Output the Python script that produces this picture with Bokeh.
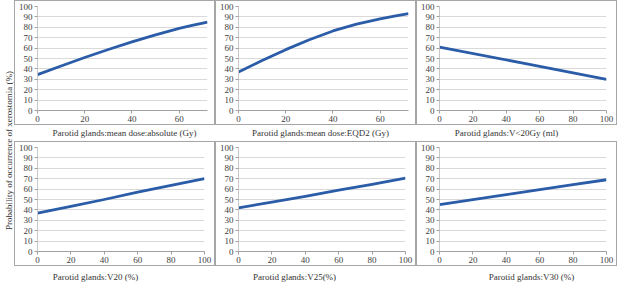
from bokeh.plotting import figure
from bokeh.layouts import row, column
from bokeh.models import Range1d, FixedTicker, Label
from bokeh.embed import file_html
from bokeh.resources import INLINE
import math

# ---------------- data ----------------
y_label_text = "Probability of occurrence of xerostomia (%)"
y_ticks = [0, 10, 20, 30, 40, 50, 60, 70, 80, 90, 100]
dose_ticks = [0, 20, 40, 60]
pct_ticks = [0, 20, 40, 60, 80, 100]

p1_title = "Parotid glands:mean dose:absolute (Gy)"
p1_x = [0, 10, 20, 30, 40, 50, 60, 65, 72]
p1_y = [34.5, 42.8, 51.0, 58.7, 66.0, 72.8, 79.0, 81.6, 85.0]

p2_title = "Parotid glands:mean dose:EQD2 (Gy)"
p2_x = [0, 10, 20, 30, 40, 50, 60, 66, 72]
p2_y = [37.0, 48.0, 58.5, 68.0, 76.5, 83.0, 88.0, 90.8, 93.2]

p3_title = "Parotid glands:V<20Gy (ml)"
p3_x = [0, 50, 100]
p3_y = [61.0, 45.5, 30.0]

p4_title = "Parotid glands:V20 (%)"
p4_x = [0, 20, 40, 60, 80, 100]
p4_y = [37.0, 43.5, 50.0, 57.0, 63.5, 70.0]

p5_title = "Parotid glands:V25(%)"
p5_x = [0, 20, 40, 60, 80, 100]
p5_y = [42.0, 47.5, 53.0, 59.0, 64.5, 70.5]

p6_title = "Parotid glands:V30 (%)"
p6_x = [0, 20, 40, 60, 80, 100]
p6_y = [45.0, 49.8, 54.7, 59.6, 64.4, 69.0]

# ---------------- style ----------------
BLUE = "#2A5CA8"
FONT = "Liberation Serif"
PW, PH = 201, 125
BORDER = {"border": "1px solid #a6a6a6"}


def panel(xs, ys, xmax, xticks, right):
    p = figure(width=PW, height=PH, x_range=Range1d(0, xmax), y_range=Range1d(0, 100),
               output_backend="svg", toolbar_location=None,
               min_border_left=22, min_border_right=right,
               min_border_top=5, min_border_bottom=16, styles=BORDER)
    p.line(xs, ys, line_color=BLUE, line_width=2.8, line_join="round")
    p.outline_line_color = None
    p.xgrid.visible = False
    p.ygrid.ticker = FixedTicker(ticks=y_ticks)
    p.ygrid.grid_line_color = "#d9d9d9"
    p.yaxis.ticker = FixedTicker(ticks=y_ticks)
    p.xaxis.ticker = FixedTicker(ticks=xticks)
    for ax in (p.xaxis[0], p.yaxis[0]):
        ax.major_label_text_font = FONT
        ax.major_label_text_font_size = "9px"
        ax.major_label_text_color = "#404040"
        ax.axis_line_color = "#a0a0a0"
        ax.major_tick_line_color = "#a0a0a0"
        ax.major_tick_in = 0
        ax.major_tick_out = 3
        ax.minor_tick_line_color = None
        ax.major_label_standoff = 2
    p.yaxis.axis_line_color = "#c8c8c8"
    return p


def strip(labels):
    s = figure(width=3 * (PW + 2), height=16, output_backend="svg", toolbar_location=None,
               x_axis_type=None, y_axis_type=None, min_border=0,
               x_range=Range1d(0, 1), y_range=Range1d(0, 1))
    s.outline_line_color = None
    for txt, xpos, ypos in labels:
        s.add_layout(Label(x=xpos, y=ypos, x_units="screen", y_units="screen", text=txt,
                           text_font=FONT, text_font_size="9px", text_color="#333333",
                           text_align="center", text_baseline="middle"))
    return s


p1 = panel(p1_x, p1_y, 72, dose_ticks, 9)
p2 = panel(p2_x, p2_y, 72, dose_ticks, 9)
p3 = panel(p3_x, p3_y, 100, pct_ticks, 12)
p4 = panel(p4_x, p4_y, 100, pct_ticks, 12)
p5 = panel(p5_x, p5_y, 100, pct_ticks, 12)
p6 = panel(p6_x, p6_y, 100, pct_ticks, 12)

s1 = strip([(p1_title, 110, 9), (p2_title, 306, 9), (p3_title, 492, 9)])
s2 = strip([(p4_title, 81, 6), (p5_title, 280, 6), (p6_title, 517, 6)])

ylab = figure(width=14, height=286, output_backend="svg", toolbar_location=None,
              x_axis_type=None, y_axis_type=None, min_border=0,
              x_range=Range1d(0, 1), y_range=Range1d(0, 1))
ylab.outline_line_color = None
ylab.add_layout(Label(x=8, y=136, x_units="screen", y_units="screen", text=y_label_text,
                      angle=math.pi / 2, text_font=FONT, text_font_size="9px",
                      text_color="#333333", text_align="center", text_baseline="middle"))

layout = row(ylab, column(row(p1, p2, p3), s1, row(p4, p5, p6), s2))

open("out.html", "w").write(file_html(layout, INLINE))
